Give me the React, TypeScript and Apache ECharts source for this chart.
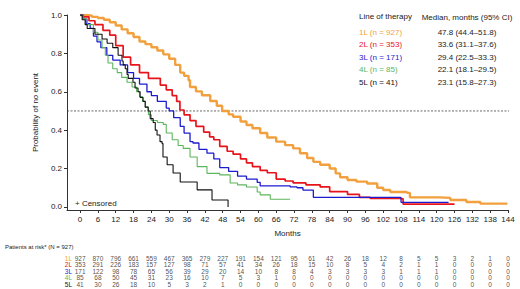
import React, { useEffect, useRef } from "react";
import * as echarts from "echarts";

const lineNames = ["1L", "2L", "3L", "4L", "5L"];
const patientCounts = [927, 353, 171, 85, 41];
const medians = ["47.8 (44.4–51.8)", "33.6 (31.1–37.6)", "29.4 (22.5–33.3)", "22.1 (18.1–29.5)", "23.1 (15.8–27.3)"];
const colors = ["#F2A03D", "#E8141C", "#1C1CCF", "#5DB65D", "#111111"];
const lineWidths = [2.4, 1.7, 1.3, 1.1, 1.1];
const monthTicks = [0, 6, 12, 18, 24, 30, 36, 42, 48, 54, 60, 66, 72, 78, 84, 90, 96, 102, 108, 114, 120, 126, 132, 138, 144];
const yTicks = [0, 0.2, 0.4, 0.6, 0.8, 1.0];

const km1L = [[0,1],[2,0.997],[4,0.99],[6,0.984],[8,0.975],[10,0.962],[12,0.945],[14,0.925],[16,0.905],[18,0.885],[20,0.862],[22,0.848],[24,0.832],[26,0.815],[28,0.795],[30,0.772],[32,0.74],[33.7,0.70],[35,0.683],[36.5,0.66],[37,0.625],[39,0.602],[41,0.582],[43.8,0.552],[46,0.527],[47.8,0.50],[50,0.482],[51.5,0.47],[54,0.445],[56,0.427],[58,0.41],[60.6,0.385],[63,0.362],[66,0.34],[69,0.322],[71.7,0.305],[74,0.28],[76.4,0.255],[78.5,0.235],[80.8,0.22],[84,0.2],[86,0.175],[87.5,0.155],[90,0.14],[93,0.132],[96.6,0.122],[100,0.1],[102,0.088],[104.4,0.078],[110,0.073],[111,0.05],[121,0.047],[124.6,0.036],[130,0.026],[134.7,0.017],[143.8,0.017]];
const km2L = [[0,1],[1,0.99],[3,0.97],[5,0.95],[7.7,0.92],[10,0.895],[12,0.84],[14.5,0.78],[17,0.74],[20,0.70],[23,0.67],[27,0.635],[29,0.61],[31,0.58],[32.5,0.55],[33.6,0.505],[35,0.48],[37,0.45],[39,0.42],[41.6,0.39],[43.6,0.365],[45,0.35],[47,0.315],[49.5,0.29],[51.5,0.275],[54,0.25],[56,0.23],[58,0.21],[60.6,0.19],[63,0.178],[66,0.145],[69,0.135],[71.7,0.125],[76,0.115],[80.8,0.104],[84,0.08],[90,0.065],[94,0.05],[97.6,0.045],[107.7,0.042],[108.7,0.015],[126,0.015]];
const km3L = [[0,1],[1,0.98],[2,0.955],[3.4,0.93],[4.5,0.89],[5.7,0.86],[7,0.83],[9,0.79],[11,0.765],[13.5,0.74],[16,0.70],[18,0.67],[20,0.64],[22.5,0.60],[24,0.58],[26,0.55],[29,0.515],[30,0.50],[31.5,0.465],[33.7,0.42],[35,0.385],[37,0.34],[38,0.333],[40,0.30],[42.7,0.28],[45,0.25],[47,0.205],[50,0.185],[53,0.16],[56,0.145],[59.6,0.128],[60.6,0.11],[70.7,0.104],[73,0.1],[75,0.088],[78.5,0.05],[107.7,0.047],[108,0.024],[124,0.024]];
const km4L = [[0,1],[1,0.98],[2.5,0.95],[4.5,0.91],[6,0.87],[7.4,0.83],[8.5,0.79],[9.4,0.75],[11,0.72],[12.5,0.70],[14,0.675],[15.8,0.65],[17.5,0.625],[19,0.60],[20,0.575],[21,0.55],[22,0.52],[23,0.48],[24,0.45],[26,0.44],[28,0.43],[29,0.385],[31,0.35],[33,0.32],[34.7,0.305],[37,0.26],[39.4,0.21],[42.7,0.175],[47,0.167],[50.5,0.125],[53,0.115],[56,0.104],[59.6,0.078],[60.6,0.063],[64,0.04],[70.7,0.04]];
const km5L = [[0,1],[0.7,0.975],[1.7,0.95],[2.4,0.93],[5,0.90],[7.4,0.875],[9.1,0.853],[11,0.83],[12.8,0.79],[14.1,0.76],[14.5,0.74],[15.2,0.72],[15.8,0.69],[16.2,0.67],[17.8,0.65],[18.5,0.62],[19.5,0.6],[20.2,0.57],[21.2,0.55],[21.9,0.52],[22.9,0.50],[23.6,0.46],[24.6,0.44],[25.3,0.40],[25.9,0.375],[26.9,0.34],[27.6,0.33],[27.9,0.26],[29.3,0.22],[31.3,0.177],[33.7,0.13],[39.4,0.089],[44.4,0.036],[49.8,0.0]];
const kmCurves = [km1L, km2L, km3L, km4L, km5L];

const risk1L = [927, 870, 796, 661, 559, 467, 365, 279, 227, 191, 154, 121, 95, 61, 42, 26, 18, 12, 8, 5, 5, 3, 2, 1, 0];
const risk2L = [353, 291, 226, 183, 157, 127, 98, 71, 57, 41, 34, 26, 18, 15, 10, 8, 5, 4, 2, 1, 1, 0, 0, 0, 0];
const risk3L = [171, 122, 98, 78, 65, 56, 39, 29, 20, 14, 10, 8, 8, 4, 3, 3, 3, 3, 1, 1, 1, 0, 0, 0, 0];
const risk4L = [85, 68, 50, 45, 31, 23, 16, 10, 7, 5, 3, 1, 0, 0, 0, 0, 0, 0, 0, 0, 0, 0, 0, 0, 0];
const risk5L = [41, 30, 26, 18, 10, 5, 3, 2, 1, 0, 0, 0, 0, 0, 0, 0, 0, 0, 0, 0, 0, 0, 0, 0, 0];
const riskRows = [risk1L, risk2L, risk3L, risk4L, risk5L];

const FONT = "'Liberation Sans', Arial, sans-serif";
const TXT = "#222";

export default function App() {
  const ref = useRef<HTMLDivElement>(null);
  useEffect(() => {
    document.body.style.margin = "0";
    const chart = echarts.init(ref.current!, null, { renderer: "svg" });
    const kmSeries = kmCurves.map((d, i) => ({
      type: "line",
      name: lineNames[i],
      xAxisIndex: 0,
      yAxisIndex: 0,
      step: "end",
      data: d,
      symbol: "none",
      showSymbol: false,
      lineStyle: { color: colors[i], width: lineWidths[i] },
      itemStyle: { color: colors[i] },
      silent: true,
      z: 3 + i,
    }));
    const riskSeries = riskRows.map((row, i) => ({
      type: "scatter",
      xAxisIndex: 1,
      yAxisIndex: 1,
      symbolSize: 1,
      itemStyle: { color: "rgba(0,0,0,0)" },
      silent: true,
      data: monthTicks.map((t, j) => [t, lineNames[i], row[j]]),
      label: {
        show: true,
        position: "inside",
        formatter: (p: any) => String(p.data[2]),
        fontSize: 6.5,
        color: TXT,
        fontFamily: FONT,
      },
    }));
    const graphics: any[] = [
      { type: "text", left: 359, top: 12, style: { text: "Line of therapy", fontSize: 8, fill: TXT, fontFamily: FONT } },
      { type: "text", x: 467, y: 17, style: { text: "Median, months (95% CI)", fontSize: 8, fill: TXT, fontFamily: FONT, align: "center", verticalAlign: "middle" } },
      { type: "text", x: 75, y: 203, style: { text: "+ Censored", fontSize: 8, fill: TXT, fontFamily: FONT, verticalAlign: "middle" } },
      { type: "text", x: 5, y: 247, style: { text: "Patients at risk* (N = 927)", fontSize: 6, fill: TXT, fontFamily: FONT, verticalAlign: "middle" } },
    ];
    lineNames.forEach((n, i) => {
      const y = 32 + i * 12.6;
      graphics.push({ type: "text", x: 359, y, style: { text: `${n} (n = ${patientCounts[i]})`, fontSize: 8, fill: colors[i], fontFamily: FONT, verticalAlign: "middle" } });
      graphics.push({ type: "text", x: 467, y, style: { text: medians[i], fontSize: 8, fill: TXT, fontFamily: FONT, align: "center", verticalAlign: "middle" } });
    });
    chart.setOption({
      animation: false,
      textStyle: { fontFamily: FONT },
      grid: [
        { left: 67, right: 12, top: 15, bottom: 79 },
        { left: 67, right: 12, top: 255, height: 32.5 },
      ],
      xAxis: [
        {
          type: "value", gridIndex: 0, min: -4.4, max: 144,
          splitLine: { show: false },
          axisLine: { show: true, onZero: false, lineStyle: { color: "#333", width: 1 } },
          axisTick: { show: true, length: 3, customValues: monthTicks, lineStyle: { color: "#333" } },
          axisLabel: { customValues: monthTicks, fontSize: 8, color: TXT, margin: 5 },
          name: "Months", nameLocation: "middle", nameGap: 19,
          nameTextStyle: { fontSize: 8, color: TXT },
        },
        { type: "value", gridIndex: 1, min: -4.4, max: 144, show: false, splitLine: { show: false } },
      ],
      yAxis: [
        {
          type: "value", gridIndex: 0, min: -0.016, max: 1,
          splitLine: { show: false },
          axisLine: { show: true, onZero: false, lineStyle: { color: "#333", width: 1 } },
          axisTick: { show: true, length: 3, customValues: yTicks, lineStyle: { color: "#333" } },
          axisLabel: { customValues: yTicks, fontSize: 8, color: TXT, margin: 5, formatter: (v: number) => v.toFixed(1) },
          name: "Probability of no event", nameLocation: "middle", nameGap: 25, nameRotate: 90,
          nameTextStyle: { fontSize: 8, color: TXT },
        },
        {
          type: "category", gridIndex: 1, data: lineNames, inverse: true,
          offset: -7,
          axisLine: { show: false }, axisTick: { show: false }, splitLine: { show: false },
          axisLabel: { interval: 0, fontSize: 6.5, margin: 2, color: (v: any, i: number) => colors[i] },
        },
      ],
      graphic: graphics,
      series: [
        ...kmSeries,
        {
          type: "line", xAxisIndex: 0, yAxisIndex: 0, clip: false, silent: true,
          data: [[-4.4, 0.5], [148.4, 0.5]], symbol: "none",
          lineStyle: { color: "#444", width: 0.8, type: [2, 1.5] }, z: 2,
        },
        ...riskSeries,
      ],
    });
    return () => chart.dispose();
  }, []);
  return <div ref={ref} style={{ width: 520, height: 289 }} />;
}
